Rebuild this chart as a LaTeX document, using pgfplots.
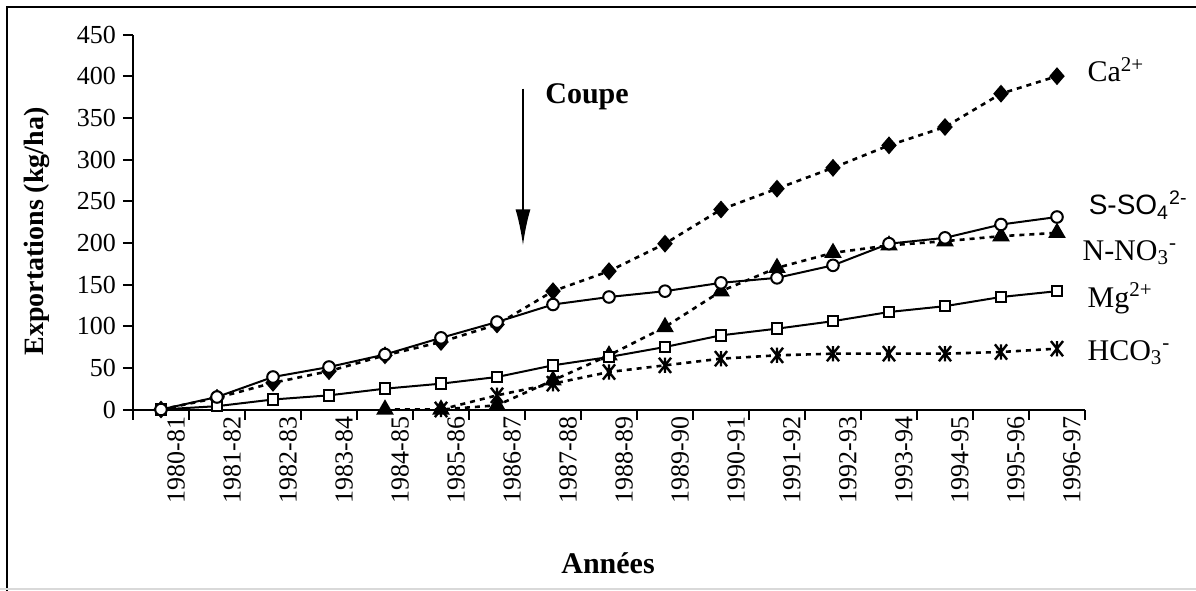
\documentclass[border=0pt]{standalone}
\usepackage{fontspec}
\setmainfont{Liberation Serif}
\newfontfamily\arialfont{Liberation Sans}
\usepackage{pgfplots}
\pgfplotsset{compat=1.18}
\usetikzlibrary{arrows.meta}
\newcommand\tl[1]{\fontsize{13}{15}\selectfont #1}

\pgfdeclareplotmark{xast}{%
  \pgfpathmoveto{\pgfqpoint{-.8\pgfplotmarksize}{-\pgfplotmarksize}}%
  \pgfpathlineto{\pgfqpoint{.8\pgfplotmarksize}{\pgfplotmarksize}}%
  \pgfpathmoveto{\pgfqpoint{-.8\pgfplotmarksize}{\pgfplotmarksize}}%
  \pgfpathlineto{\pgfqpoint{.8\pgfplotmarksize}{-\pgfplotmarksize}}%
  \pgfpathmoveto{\pgfqpoint{0pt}{-\pgfplotmarksize}}%
  \pgfpathlineto{\pgfqpoint{0pt}{\pgfplotmarksize}}%
  \pgfusepathqstroke}

\pgfplotstableread{
x Ca SO Mg
0 0 0 0
1 14 15 4
2 32 39 12
3 46 51 17
4 65 66 25
5 81 86 31
6 102 105 39
7 142 126 53
8 166 135 63
9 199 142 75
10 240 152 89
11 265 158 97
12 290 173 106
13 317 199 117
14 339 206 124
15 379 222 135
16 400 231 142
}\mainTable

\pgfplotstableread{
x NO
4 0
5 0
6 5
7 35
8 65
9 99
10 142
11 170
12 188
13 197
14 202
15 208
16 212
}\noTable

\pgfplotstableread{
x HC
5 0
6 17
7 31
8 45
9 53
10 61
11 65
12 67
13 67
14 67
15 69
16 73
}\hcTable

\begin{document}
\begin{tikzpicture}
\path[use as bounding box] (-66.5pt,-90.25pt) rectangle (531.5pt,204.75pt);
\begin{axis}[
  at={(0pt,0pt)}, anchor=south west,
  scale only axis, width=476pt, height=187.5pt,
  xmin=-0.5, xmax=16.5, ymin=0, ymax=450,
  axis x line=bottom, axis y line=left,
  axis line style={-, line width=1pt, black},
  tick align=outside,
  major tick length=5pt,
  every tick/.style={black, line width=1pt},
  xtick={-0.5,0.5,...,16.5}, xticklabels={},
  extra x ticks={0,1,...,16},
  extra x tick labels={\tl{1980-81},\tl{1981-82},\tl{1982-83},\tl{1983-84},\tl{1984-85},\tl{1985-86},\tl{1986-87},\tl{1987-88},\tl{1988-89},\tl{1989-90},\tl{1990-91},\tl{1991-92},\tl{1992-93},\tl{1993-94},\tl{1994-95},\tl{1995-96},\tl{1996-97}},
  extra x tick style={major tick length=0pt},
  xticklabel style={rotate=90, anchor=east, yshift=-7.5pt},
  ytick={0,50,...,450},
  yticklabel={\tl{\pgfmathprintnumber{\tick}}},
  /pgf/number format/assume math mode=true,
  clip=false,
  every axis y label/.style={at={([xshift=-48pt]axis description cs:0,0.4746)}, rotate=90, anchor=center, font=\bfseries\fontsize{14}{16}\selectfont},
  every axis x label/.style={at={([yshift=-82pt]axis description cs:0.499,0)}, anchor=base, font=\bfseries\fontsize{15}{18}\selectfont},
  ylabel={Exportations (kg/ha)},
  xlabel={Années},
]
\addplot[black, line width=1.3pt, dash pattern=on 2.5pt off 2.5pt, mark=diamond*, mark size=3.5pt, mark options={solid, fill=black, xscale=1.15}] table[x=x,y=Ca] {\mainTable};
\addplot[black, line width=1.3pt, dash pattern=on 2.5pt off 2.5pt, mark=triangle*, mark size=3.8pt, mark options={solid, fill=black}] table[x=x,y=NO] {\noTable};
\addplot[black, line width=1.3pt, dash pattern=on 2.5pt off 2.5pt, mark=xast, mark size=3.8pt, mark options={solid, line width=1.2pt}] table[x=x,y=HC] {\hcTable};
\addplot[black, line width=1pt, mark=square*, mark size=2.6pt, mark options={solid, fill=white, draw=black}] table[x=x,y=Mg] {\mainTable};
\addplot[black, line width=1pt, mark=*, mark size=2.9pt, mark options={solid, fill=white, draw=black}] table[x=x,y=SO] {\mainTable};

\draw[black, line width=1pt, -{Latex[length=18pt,width=7.5pt]}] (axis cs:6.464,385) -- (axis cs:6.464,197);
\node[anchor=base west, inner sep=0pt, font=\bfseries\fontsize{15}{18}\selectfont] at (axis cs:6.857,367) {Coupe};

\node[anchor=base west, inner sep=0pt, font=\fontsize{15}{18}\selectfont] at (axis cs:16.54,393.5) {Ca\textsuperscript{2+}};
\node[anchor=base west, inner sep=0pt, font=\arialfont\fontsize{14}{17}\selectfont] at (axis cs:16.56,233.5) {S-SO\textsubscript{4}\textsuperscript{2-}};
\node[anchor=base west, inner sep=0pt, font=\fontsize{15}{18}\selectfont] at (axis cs:16.45,179) {N-NO\textsubscript{3}\textsuperscript{-}};
\node[anchor=base west, inner sep=0pt, font=\fontsize{15}{18}\selectfont] at (axis cs:16.54,123) {Mg\textsuperscript{2+}};
\node[anchor=base west, inner sep=0pt, font=\fontsize{15}{18}\selectfont] at (axis cs:16.54,59) {HCO\textsubscript{3}\textsuperscript{-}};
\end{axis}
\draw[black, line width=1.25pt] (-63pt,-95pt) -- (-63pt,201.25pt) -- (540pt,201.25pt);
\draw[black!15, line width=0.6pt] (-66.5pt,-89.75pt) -- (531.5pt,-89.75pt);
\end{tikzpicture}
\end{document}
